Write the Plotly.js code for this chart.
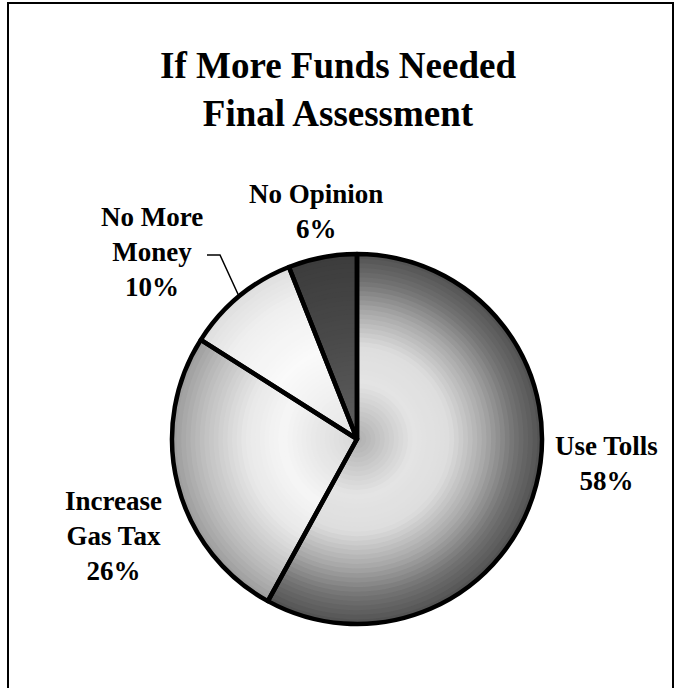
<!DOCTYPE html>
<html><head><meta charset="utf-8">
<script src="https://cdn.plot.ly/plotly-3.0.1.min.js"></script>
<style>html,body{margin:0;padding:0;background:#fff}#chart{width:676px;height:688px}</style>
</head><body><div id="chart"></div>
<script>
// ---- data ----
const categories = ["Use Tolls", "Increase Gas Tax", "No More Money", "No Opinion"];
const percents = [58, 26, 10, 6];
const labelText = ["Use Tolls", "Increase<br>Gas Tax", "No More<br>Money", "No Opinion"];
const titleLines = ["If More Funds Needed", "Final Assessment"];

// ---- layout / style ----
const W = 676, H = 688, CX = 357, CY = 439, R = 185;
const FONT = "Liberation Serif, 'Times New Roman', serif";
// radial shading stops per slice: [fraction of radius, gray level]
const shadeStops = [
  [[0, 175], [0.3, 228], [0.5, 222], [0.7, 165], [0.85, 115], [1, 80]],
  [[0, 215], [0.4, 246], [0.6, 232], [0.85, 188], [1, 155]],
  [[0, 228], [0.5, 250], [0.8, 240], [1, 222]],
  [[0, 95], [0.5, 75], [1, 60]]
];
const labelPos = [[606, 463], [113, 536], [152, 252], [316, 211]];

function shadeAt(stops, t) {
  for (let i = 1; i < stops.length; i++) {
    if (t <= stops[i][0]) {
      const a = stops[i - 1], b = stops[i];
      const f = (t - a[0]) / (b[0] - a[0]);
      const g = Math.round(a[1] + f * (b[1] - a[1]));
      return `rgb(${g},${g},${g})`;
    }
  }
  const g = stops[stops.length - 1][1];
  return `rgb(${g},${g},${g})`;
}
function dom(r) {
  return { x: [(CX - r) / W, (CX + r) / W], y: [1 - (CY + r) / H, 1 - (CY - r) / H] };
}

const NL = 40;
const traces = [];
for (let k = 0; k < NL; k++) {
  const r = R * (1 - k / NL);
  const t = 1 - (k + 0.5) / NL;
  traces.push({
    type: 'pie', values: percents, labels: categories, sort: false,
    direction: 'clockwise', rotation: 0, textinfo: 'none', hoverinfo: 'skip',
    showlegend: false,
    marker: { colors: shadeStops.map(s => shadeAt(s, t)), line: { width: 0 } },
    domain: dom(r)
  });
}
// outline layer
traces.push({
  type: 'pie', values: percents, labels: categories, sort: false,
  direction: 'clockwise', rotation: 0, textinfo: 'none', hoverinfo: 'skip',
  showlegend: false,
  marker: { colors: categories.map(() => 'rgba(0,0,0,0)'), line: { color: '#000', width: 4.5 } },
  domain: dom(R)
});

// leader line end for "No More Money" computed from data
const total = percents.reduce((a, b) => a + b, 0);
let cum = 0;
const mids = percents.map(v => { const m = (cum + v / 2) / total; cum += v; return m; });
const ang = mids[2] * 2 * Math.PI;
const ex = CX + R * Math.sin(ang), ey = CY - R * Math.cos(ang);
const px = x => (x / W).toFixed(5), py = y => (1 - y / H).toFixed(5);

const annotations = categories.map((c, i) => ({
  text: labelText[i] + '<br>' + percents[i] + '%',
  x: labelPos[i][0] / W, y: 1 - labelPos[i][1] / H, xref: 'paper', yref: 'paper',
  xanchor: 'center', yanchor: 'middle', showarrow: false, align: 'center',
  font: { family: FONT, size: 27, color: '#000', weight: 'bold' }
}));

const layout = {
  width: W, height: H, autosize: false,
  margin: { l: 0, r: 0, t: 0, b: 0, pad: 0 },
  paper_bgcolor: '#fff', plot_bgcolor: '#fff',
  showlegend: false,
  title: {
    text: titleLines.join('<br>'),
    font: { family: FONT, size: 37, color: '#000', weight: 'bold' },
    x: 0.5, xref: 'paper', xanchor: 'center',
    y: 1 - 78 / H, yref: 'container', yanchor: 'top'
  },
  annotations: annotations,
  shapes: [
    { type: 'rect', xref: 'paper', yref: 'paper', x0: 8 / W, x1: 673 / W, y0: -0.1, y1: 1 - 3 / H,
      line: { color: '#000', width: 2 }, fillcolor: 'rgba(0,0,0,0)' },
    { type: 'path', xref: 'paper', yref: 'paper',
      path: `M ${px(207)},${py(255)} L ${px(220)},${py(255)} L ${px(ex)},${py(ey)}`,
      line: { color: '#000', width: 1.5 } }
  ]
};

Plotly.newPlot('chart', traces, layout, { staticPlot: true, displayModeBar: false });
</script>
</body></html>
